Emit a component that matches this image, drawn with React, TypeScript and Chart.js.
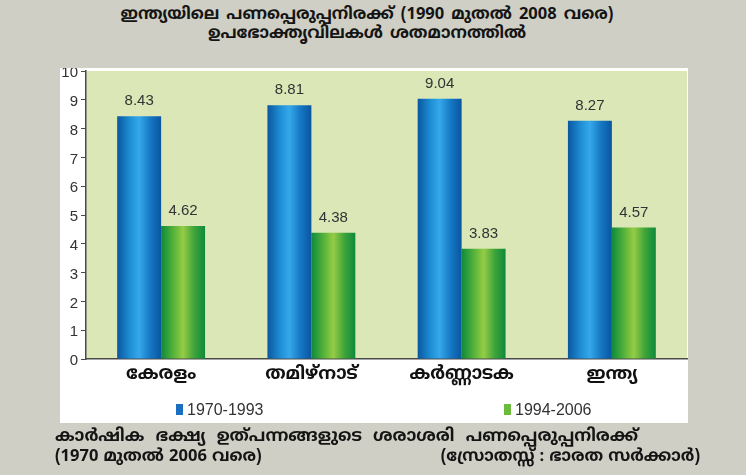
import React, { useEffect, useRef } from "react";
import { Chart, registerables } from "chart.js";

Chart.register(...registerables);

const categories = ["കേരളം", "തമിഴ്നാട്", "കർണ്ണാടക", "ഇന്ത്യ"];
const series1Label = "1970-1993";
const series2Label = "1994-2006";
const series1 = [8.43, 8.81, 9.04, 8.27];
const series2 = [4.62, 4.38, 3.83, 4.57];
const yTicks = [0, 1, 2, 3, 4, 5, 6, 7, 8, 9, 10];

const titleLine1 = "ഇന്ത്യയിലെ പണപ്പെരുപ്പനിരക്ക് (1990 മുതൽ 2008 വരെ)";
const titleLine2 = "ഉപഭോക്തൃവിലകൾ ശതമാനത്തിൽ";
const footLine1 = "കാർഷിക ഭക്ഷ്യ ഉത്പന്നങ്ങളുടെ ശരാശരി പണപ്പെരുപ്പനിരക്ക്";
const footLine2a = "(1970 മുതൽ 2006 വരെ)";
const footLine2b = "(സ്രോതസ്സ് : ഭാരത സർക്കാർ)";

const CAT_PCT = 0.585;
const BLUE_STOPS = ["#0a57a0", "#1f8fd6", "#35a8ea", "#1578c4", "#0a55a0"];
const GREEN_STOPS = ["#0d8a3c", "#5bb53a", "#96cc45", "#3fa43a", "#0e8a3c"];

const MAL_FONT = "'Noto Sans Malayalam', 'Noto Sans', 'DejaVu Sans', sans-serif";
const NUM_FONT = "'Liberation Sans', Arial, sans-serif";

function gradientFor(stops: string[]) {
  return (ctx: any) => {
    const chart = ctx.chart;
    const xs = chart.scales && chart.scales.x;
    if (ctx.dataIndex === undefined || !chart.chartArea || !xs) return stops[2];
    const center = xs.getPixelForValue(ctx.dataIndex);
    const catW = xs.width / categories.length;
    const half = (catW * CAT_PCT) / 2;
    const left = ctx.datasetIndex === 0 ? center - half : center;
    const g = chart.ctx.createLinearGradient(left, 0, left + half, 0);
    g.addColorStop(0, stops[0]);
    g.addColorStop(0.3, stops[1]);
    g.addColorStop(0.5, stops[2]);
    g.addColorStop(0.75, stops[3]);
    g.addColorStop(1, stops[4]);
    return g;
  };
}

const plotBg = {
  id: "plotBg",
  beforeDraw(chart: any) {
    const { ctx, chartArea } = chart;
    if (!chartArea) return;
    ctx.save();
    ctx.fillStyle = "#dbe7b7";
    ctx.fillRect(chartArea.left, chartArea.top, chartArea.right - chartArea.left, chartArea.bottom - chartArea.top);
    ctx.restore();
  },
};

const valueLabels = {
  id: "valueLabels",
  afterDatasetsDraw(chart: any) {
    const { ctx } = chart;
    ctx.save();
    ctx.font = "15px " + NUM_FONT;
    ctx.fillStyle = "#333333";
    ctx.textAlign = "center";
    ctx.textBaseline = "middle";
    chart.data.datasets.forEach((ds: any, di: number) => {
      const meta = chart.getDatasetMeta(di);
      meta.data.forEach((el: any, i: number) => {
        ctx.fillText(ds.data[i].toFixed(2), el.x, el.y - 15);
      });
    });
    ctx.restore();
  },
};

function ChartCanvas() {
  const ref = useRef<HTMLCanvasElement | null>(null);
  useEffect(() => {
    if (!ref.current) return;
    const chart = new Chart(ref.current, {
      type: "bar",
      data: {
        labels: categories,
        datasets: [
          { label: series1Label, data: series1, backgroundColor: gradientFor(BLUE_STOPS) as any, borderWidth: 0 },
          { label: series2Label, data: series2, backgroundColor: gradientFor(GREEN_STOPS) as any, borderWidth: 0 },
        ],
      },
      options: {
        animation: false,
        responsive: false,
        maintainAspectRatio: false,
        layout: { padding: { top: 3, right: 1, left: 0, bottom: 0 } },
        plugins: { legend: { display: false }, tooltip: { enabled: false }, title: { display: false } },
        datasets: { bar: { categoryPercentage: CAT_PCT, barPercentage: 1 } },
        scales: {
          x: {
            offset: true,
            grid: { display: false, drawTicks: false },
            border: { display: true, color: "#4a4a4a", width: 1.5 },
            ticks: {
              padding: 6,
              color: "#111111",
              font: { family: MAL_FONT, size: 18, weight: "bold" },
            },
            afterFit(scale: any) {
              scale.height = 64;
            },
          },
          y: {
            min: 0,
            max: 10,
            afterBuildTicks(scale: any) {
              scale.ticks = yTicks.map((v) => ({ value: v }));
            },
            grid: { drawOnChartArea: false, drawTicks: true, tickLength: 5, color: "#4a4a4a", lineWidth: 1 },
            border: { display: true, color: "#4a4a4a", width: 1.5 },
            ticks: {
              padding: 3,
              labelOffset: 2,
              color: "#333333",
              font: { family: NUM_FONT, size: 15 },
            },
            afterFit(scale: any) {
              scale.width = 26;
              scale.paddingTop = 0;
              scale.paddingBottom = 0;
            },
          },
        },
      },
      plugins: [plotBg, valueLabels],
    } as any);
    return () => chart.destroy();
  }, []);
  return <canvas ref={ref} width={628} height={355} style={{ display: "block", width: 628, height: 355 }} />;
}

export default function App() {
  const malBold: React.CSSProperties = {
    fontFamily: MAL_FONT,
    fontWeight: "bold",
    color: "#141414",
    whiteSpace: "nowrap",
  };
  const legendText: React.CSSProperties = {
    position: "absolute",
    top: 401,
    fontFamily: "'Liberation Sans Narrow', 'Liberation Sans', Arial, sans-serif",
    fontSize: 16,
    color: "#333",
    lineHeight: "17px",
  };
  return (
    <div style={{ position: "fixed", left: 0, top: 0, width: 746, height: 475, background: "#cfcfc5", overflow: "hidden" }}>
      <div style={{ ...malBold, position: "absolute", left: 0, top: 6, width: 734, textAlign: "center", fontSize: 16.5, lineHeight: "19px", wordSpacing: 2 }}>
        <div>{titleLine1}</div>
        <div>{titleLine2}</div>
      </div>
      <div style={{ position: "absolute", left: 60, top: 68, width: 628, height: 355, background: "#ffffff" }}>
        <ChartCanvas />
      </div>
      <div style={{ position: "absolute", left: 176, top: 404, width: 7, height: 11, background: "#1a6fc0" }} />
      <div style={{ ...legendText, left: 187 }}>{series1Label}</div>
      <div style={{ position: "absolute", left: 504, top: 404, width: 7, height: 11, background: "#6cbb3c" }} />
      <div style={{ ...legendText, left: 515 }}>{series2Label}</div>
      <div style={{ ...malBold, position: "absolute", left: 55, top: 427, fontSize: 17, lineHeight: "20px", wordSpacing: 6 }}>{footLine1}</div>
      <div style={{ ...malBold, position: "absolute", left: 55, top: 447, fontSize: 16.5, lineHeight: "20px" }}>{footLine2a}</div>
      <div style={{ ...malBold, position: "absolute", right: 46, top: 447, fontSize: 16.5, lineHeight: "20px" }}>{footLine2b}</div>
    </div>
  );
}
